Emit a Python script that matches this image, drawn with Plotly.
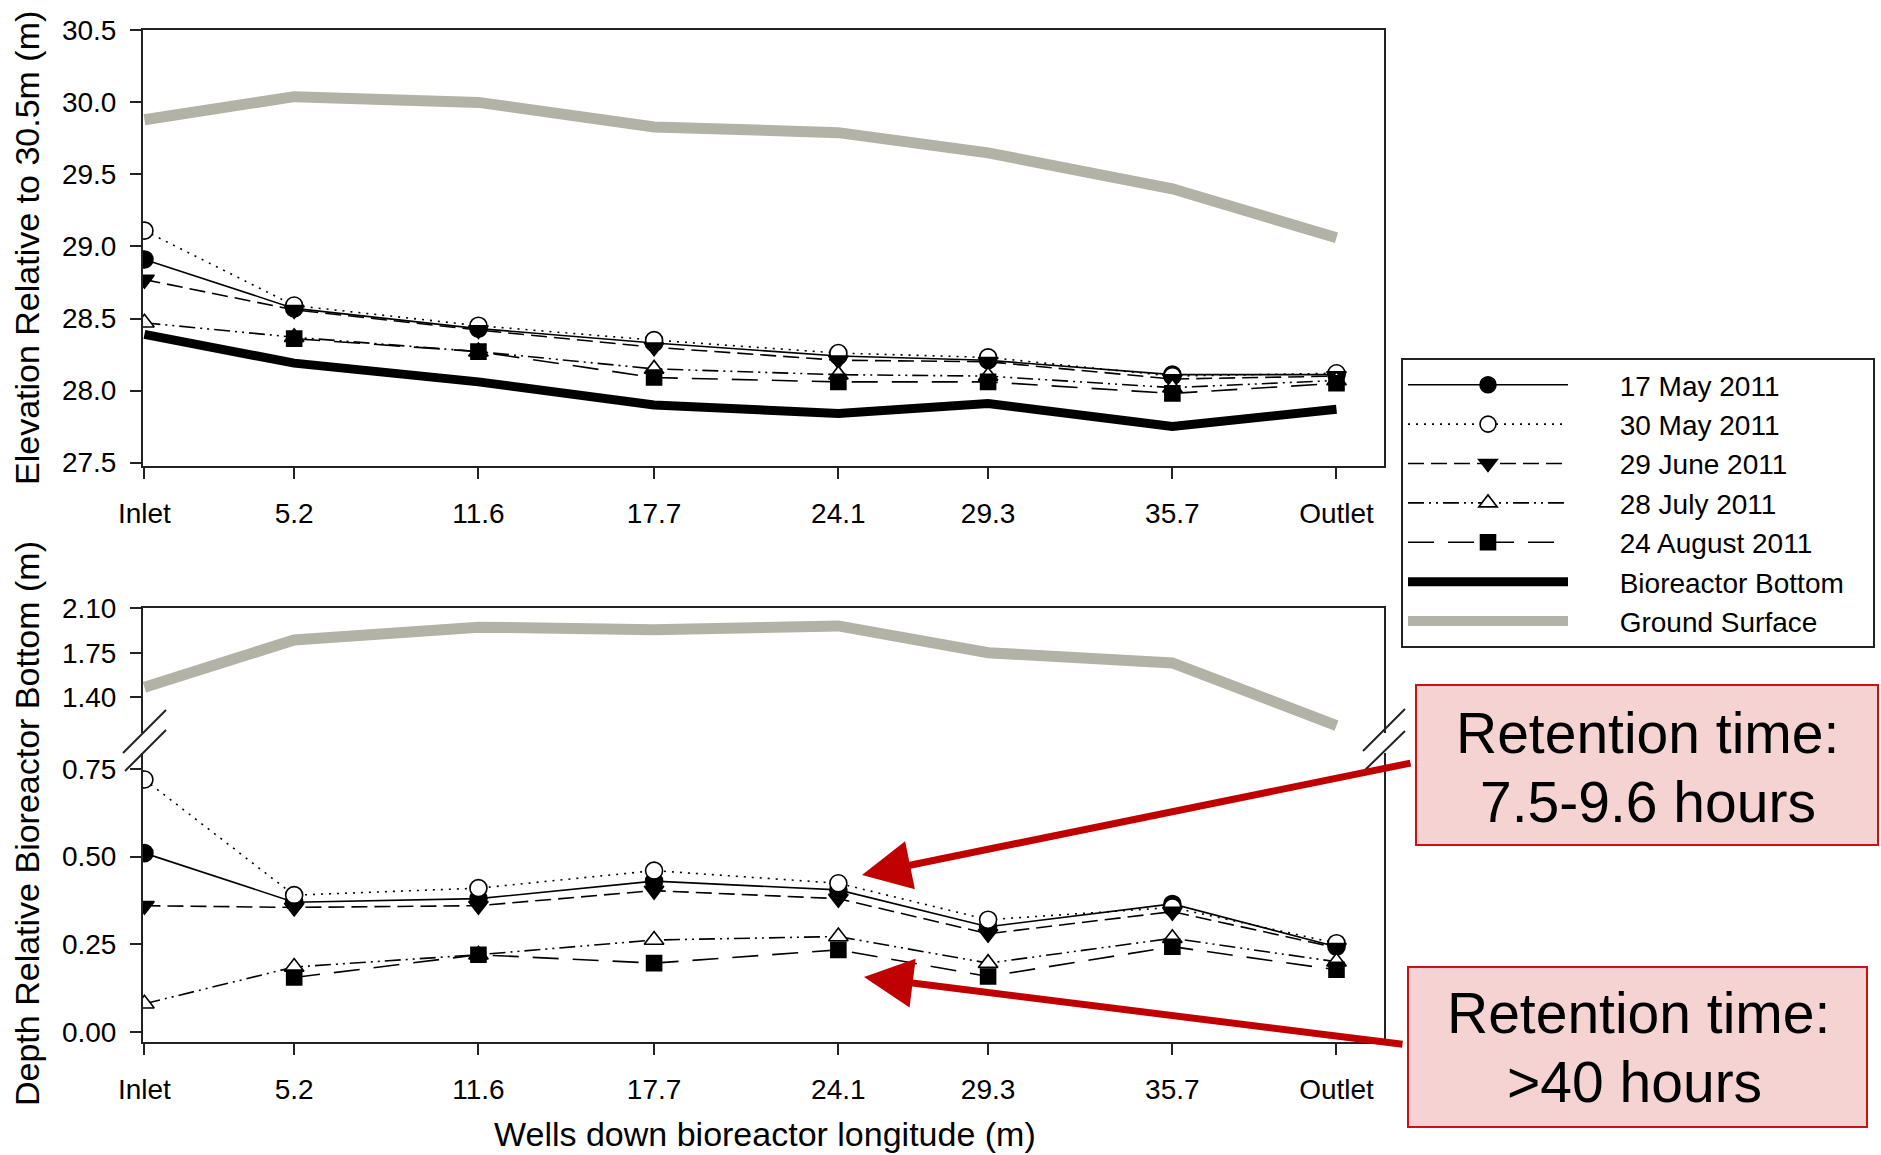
import plotly.graph_objects as go

# ---------------- data ----------------
well_pos = [0, 5.2, 11.6, 17.7, 24.1, 29.3, 35.7, 41.4]
tick_labels = ["Inlet", "5.2", "11.6", "17.7", "24.1", "29.3", "35.7", "Outlet"]

# top panel: elevation relative to 30.5 m (m)
ground_elev = [29.88, 30.04, 30.00, 29.83, 29.79, 29.65, 29.40, 29.06]
bottom_elev = [28.39, 28.19, 28.06, 27.90, 27.84, 27.91, 27.75, 27.87]
may17_elev = [28.91, 28.57, 28.43, 28.33, 28.24, 28.21, 28.11, 28.11]
may30_elev = [29.11, 28.59, 28.45, 28.35, 28.26, 28.23, 28.10, 28.12]
jun29_elev = [28.77, 28.56, 28.42, 28.30, 28.21, 28.20, 28.08, 28.10]
jul28_elev = [28.47, 28.37, 28.27, 28.15, 28.11, 28.10, 28.02, 28.07]
aug24_elev = [None, 28.36, 28.27, 28.09, 28.06, 28.06, 27.98, 28.05]

# bottom panel: depth relative to bioreactor bottom (m)
ground_depth = [1.48, 1.85, 1.95, 1.93, 1.96, 1.75, 1.67, 1.18]
may17_depth = [0.51, 0.37, 0.38, 0.43, 0.405, 0.30, 0.365, 0.243]
may30_depth = [0.72, 0.39, 0.41, 0.46, 0.424, 0.32, 0.355, 0.253]
jun29_depth = [0.36, 0.355, 0.36, 0.403, 0.38, 0.28, 0.343, 0.24]
jul28_depth = [0.08, 0.185, 0.22, 0.262, 0.272, 0.196, 0.267, 0.20]
aug24_depth = [None, 0.155, 0.22, 0.196, 0.234, 0.158, 0.243, 0.177]

series_names = ["17 May 2011", "30 May 2011", "29 June 2011", "28 July 2011", "24 August 2011"]
elev_series = [may17_elev, may30_elev, jun29_elev, jul28_elev, aug24_elev]
depth_series = [may17_depth, may30_depth, jun29_depth, jul28_depth, aug24_depth]

# ---------------- styles ----------------
FONT = "Liberation Sans, Arial, sans-serif"
BLACK = "#000000"
GRAY = "#b2b2a6"
RED = "#c00000"
styles = [
    dict(dash="solid", symbol="circle", fill=BLACK, size=17),
    dict(dash="2px,6px", symbol="circle", fill="white", size=17),
    dict(dash="16px,7px", symbol="triangle-down", fill=BLACK, size=17),
    dict(dash="16px,5px,2px,5px,2px,5px", symbol="triangle-up", fill="white", size=17),
    dict(dash="26px,14px", symbol="square", fill=BLACK, size=15),
]

NB = "\u00a0"
def legend_label(s):
    return NB * 6 + s + NB * 3

W, H = 1881, 1155
def px_x(p):
    return p / W
def px_y(p):
    return 1 - p / H

fig = go.Figure()

# ----- top panel -----
fig.add_trace(go.Scatter(x=well_pos, y=ground_elev, mode="lines", name=legend_label("Ground Surface"),
                         line=dict(color=GRAY, width=11), xaxis="x", yaxis="y",
                         legendrank=7))
fig.add_trace(go.Scatter(x=well_pos, y=bottom_elev, mode="lines", name=legend_label("Bioreactor Bottom"),
                         line=dict(color=BLACK, width=9), xaxis="x", yaxis="y",
                         legendrank=6))
for i, (name, ys, st) in enumerate(zip(series_names, elev_series, styles)):
    fig.add_trace(go.Scatter(
        x=well_pos, y=ys, mode="lines+markers", name=legend_label(name), legendrank=i + 1,
        line=dict(color=BLACK, width=1.6, dash=st["dash"]),
        marker=dict(symbol=st["symbol"], size=st["size"], color=st["fill"],
                    line=dict(color=BLACK, width=1.6)),
        connectgaps=False, xaxis="x", yaxis="y"))

# ----- bottom panel (upper broken segment) -----
fig.add_trace(go.Scatter(x=well_pos, y=ground_depth, mode="lines", name="Ground Surface",
                         line=dict(color=GRAY, width=11), xaxis="x3", yaxis="y2",
                         showlegend=False))

# ----- bottom panel (lower segment) -----
for name, ys, st in zip(series_names, depth_series, styles):
    fig.add_trace(go.Scatter(
        x=well_pos, y=ys, mode="lines+markers", name=name, showlegend=False,
        line=dict(color=BLACK, width=1.6, dash=st["dash"]),
        marker=dict(symbol=st["symbol"], size=st["size"], color=st["fill"],
                    line=dict(color=BLACK, width=1.6)),
        connectgaps=False, xaxis="x2", yaxis="y3"))

# ---------------- axes ----------------
x_dom = [px_x(143), px_x(1384)]
x_rng = [-0.05, 43.05]
axis_common = dict(showgrid=False, zeroline=False, showline=True, linecolor="#222222",
                   linewidth=2, ticks="outside", ticklen=11, tickwidth=2, tickcolor="#222222",
                   automargin=False,
                   tickfont=dict(family=FONT, size=28, color=BLACK))

fig.update_layout(
    template="none",
    xaxis=dict(axis_common, domain=x_dom, range=x_rng, anchor="y", mirror=True,
               tickvals=well_pos, ticktext=tick_labels, ticklabelstandoff=10),
    yaxis=dict(axis_common, domain=[px_y(466), px_y(30.4)], range=[27.476, 30.5],
               anchor="x", mirror=True, tickvals=[27.5, 28.0, 28.5, 29.0, 29.5, 30.0, 30.5],
               tickformat=".1f", ticklabelstandoff=8),
    xaxis3=dict(showgrid=False, zeroline=False, showline=True, linecolor="#222222", linewidth=2,
                domain=x_dom, range=x_rng, anchor="y2", side="top", ticks="",
                showticklabels=False, automargin=False),
    yaxis2=dict(axis_common, domain=[px_y(733), px_y(608)], range=[1.1216, 2.10],
                anchor="x3", mirror=True, tickvals=[1.40, 1.75, 2.10], tickformat=".2f",
                ticklabelstandoff=8),
    xaxis2=dict(axis_common, domain=x_dom, range=x_rng, anchor="y3",
                tickvals=well_pos, ticktext=tick_labels, ticklabelstandoff=10),
    yaxis3=dict(axis_common, domain=[px_y(1042), px_y(753)], range=[-0.029, 0.7957],
                anchor="x2", mirror=True, tickvals=[0.0, 0.25, 0.50, 0.75], tickformat=".2f",
                ticklabelstandoff=8),
)

# ---------------- layout ----------------
fig.update_layout(
    width=W, height=H,
    margin=dict(l=0, r=0, t=0, b=0, pad=0, autoexpand=False),
    paper_bgcolor="white", plot_bgcolor="white",
    font=dict(family=FONT, size=28, color=BLACK),
    legend=dict(x=px_x(1401), y=px_y(358), xanchor="left", yanchor="top",
                bgcolor="white", bordercolor="#222222", borderwidth=2,
                font=dict(family=FONT, size=28, color=BLACK),
                itemwidth=160, traceorder="normal", tracegroupgap=0),
    showlegend=True,
)

shapes = []
# axis break marks
for (x0, y0, x1, y1) in [(123, 753, 166, 710), (125, 771, 166, 730),
                         (1363, 751, 1405, 709), (1365, 770, 1405, 731)]:
    shapes.append(dict(type="line", xref="paper", yref="paper",
                       x0=px_x(x0), y0=px_y(y0), x1=px_x(x1), y1=px_y(y1),
                       line=dict(color="#222222", width=2)))
# retention time boxes
for (x0, y0, x1, y1) in [(1416, 685, 1878, 845), (1408, 967, 1867, 1127)]:
    shapes.append(dict(type="rect", xref="paper", yref="paper",
                       x0=px_x(x0), y0=px_y(y1), x1=px_x(x1), y1=px_y(y0),
                       fillcolor="#f6d3d3", line=dict(color="#cc1111", width=2), layer="above"))
fig.update_layout(shapes=shapes)

annotations = [
    dict(text="Elevation Relative to 30.5m (m)", x=px_x(27), y=px_y(248), textangle=-90),
    dict(text="Depth Relative Bioreactor Bottom (m)", x=px_x(27), y=px_y(824), textangle=-90),
    dict(text="Wells down bioreactor longitude (m)", x=px_x(765), y=px_y(1134)),
]
for a in annotations:
    a.update(xref="paper", yref="paper", showarrow=False, xanchor="center", yanchor="middle",
             font=dict(family=FONT, size=34, color=BLACK))

# arrows
annotations += [
    dict(text=" ", x=px_x(862), y=px_y(875), xref="paper", yref="paper", showarrow=True,
         ax=1416 - 862, ay=762 - 875, arrowcolor=RED, arrowwidth=7, arrowhead=2, arrowsize=1.4),
    dict(text=" ", x=px_x(864), y=px_y(977), xref="paper", yref="paper", showarrow=True,
         ax=1408 - 864, ay=1045 - 977, arrowcolor=RED, arrowwidth=7, arrowhead=2, arrowsize=1.4),
]
# box texts (one annotation per line)
box_lines = [
    ("Retention time:", 1647, 733),
    ("7.5-9.6 hours", 1648, 802),
    ("Retention time:", 1638, 1013),
    (">40 hours", 1634, 1082),
]
for txt, cx, cy in box_lines:
    annotations.append(dict(text=txt, x=px_x(cx), y=px_y(cy), xref="paper", yref="paper",
                            showarrow=False, xanchor="center", yanchor="middle",
                            font=dict(family=FONT, size=57, color=BLACK)))
fig.update_layout(annotations=annotations)

fig.write_html("out.html",
               config={"displayModeBar": False},
               post_script="document.body.style.margin='0px';"
                           "document.body.style.padding='0px';"
                           "document.body.style.overflow='hidden';")
